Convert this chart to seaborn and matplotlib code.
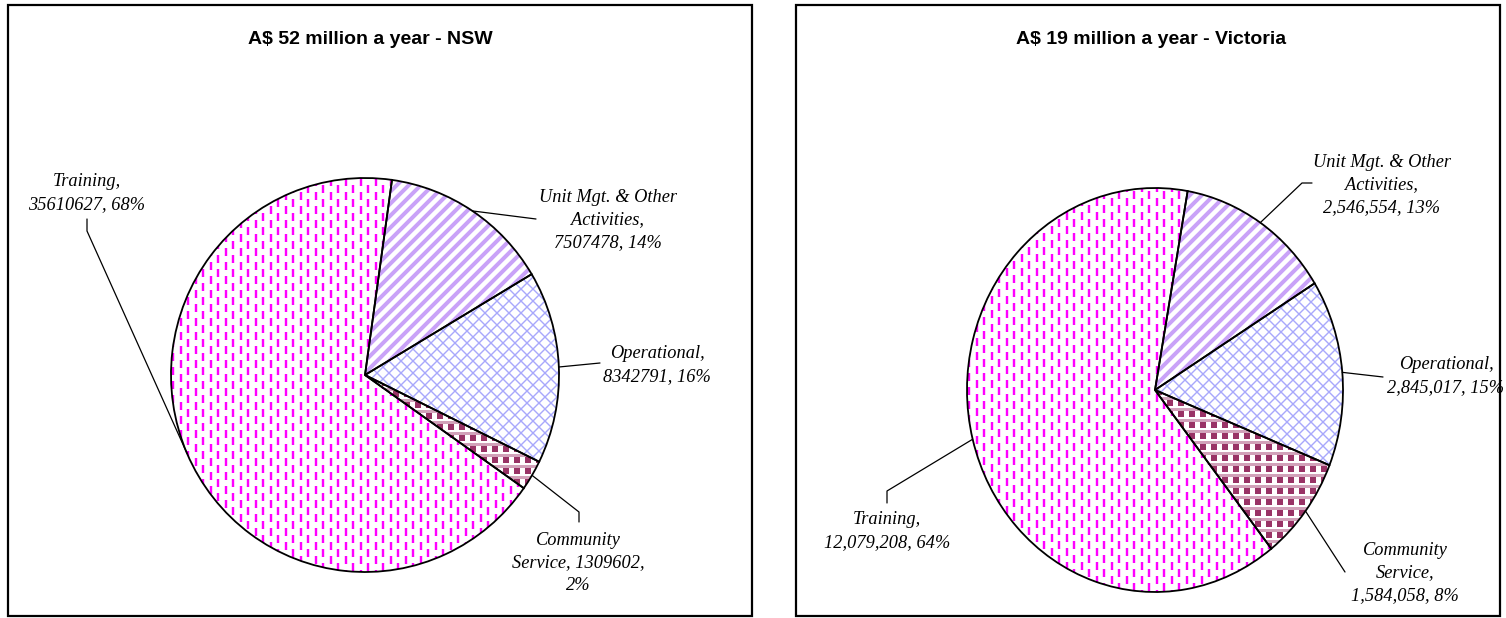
import numpy as np
import matplotlib
matplotlib.use("Agg")
import matplotlib.pyplot as plt
import seaborn as sns
from matplotlib.collections import LineCollection
from matplotlib.patches import Rectangle
from matplotlib.transforms import Affine2D

# ---------------- data ----------------
categories = ["Unit Mgt. & Other Activities", "Operational", "Community Service", "Training"]
nsw_values = [7507478, 8342791, 1309602, 35610627]
vic_values = [2546554, 2845017, 1584058, 12079208]
nsw_labels = ["Unit Mgt. & Other\nActivities,\n7507478, 14%",
              "Operational,\n8342791, 16%",
              "Community\nService, 1309602,\n2%",
              "Training,\n35610627, 68%"]
vic_labels = ["Unit Mgt. & Other\nActivities,\n2,546,554, 13%",
              "Operational,\n2,845,017, 15%",
              "Community\nService,\n1,584,058, 8%",
              "Training,\n12,079,208, 64%"]
titles = ["A$ 52 million a year - NSW", "A$ 19 million a year - Victoria"]

# ---------------- style ----------------
sns.set_theme(style="white")
plt.rcParams["lines.scale_dashes"] = False
textures = ["stripes", "cross", "check", "dashes"]

W, H = 1506, 618
fig = plt.figure(figsize=(W / 100, H / 100), dpi=100)
ax = fig.add_axes([0, 0, 1, 1])
PT = 0.72  # points per pixel


def Y(y):
    return H - y


panels = [
    dict(values=nsw_values, labels=nsw_labels, title=titles[0],
         box=(8, 5, 752, 616), center=(365, 375), radii=(194, 197), offset=8,
         title_xy=(370, 40),
         label_xy=[(608, 220), (657, 365), (578, 563), (87, 193)],
         leader=[[(536, 219)], [(600, 363)], [(579, 512), (579, 522)], [(87, 231), (87, 219)]]),
    dict(values=vic_values, labels=vic_labels, title=titles[1],
         box=(796, 5, 1500, 616), center=(1155, 390), radii=(188, 202), offset=10,
         title_xy=(1151, 40),
         label_xy=[(1382, 185), (1446, 376), (1405, 573), (887, 531)],
         leader=[[(1302, 183), (1312, 183)], [(1383, 377)], [(1345, 572)], [(887, 491), (887, 503)]]),
]


def add_lines(segs, clip, **kw):
    lc = LineCollection(segs, zorder=2, **kw)
    ax.add_collection(lc)
    lc.set_clip_path(clip)


def texture(kind, wedge, cx, cy, rx, ry):
    x0, x1 = cx - rx - 20, cx + rx + 20
    y0, y1 = cy - ry - 20, cy + ry + 20
    span = (x1 - x0) + (y1 - y0)
    if kind == "dashes":
        xs = np.arange(x0, x1, 7.5)
        for k, off in ((0, 0), (1, 7)):
            segs = [[(x, y0), (x, y1)] for x in xs[k::2]]
            add_lines(segs, wedge, colors="#ff00ff", linewidths=2.4 * PT,
                      linestyles=[(off * PT, (8 * PT, 6 * PT))])
    elif kind == "stripes":
        cs = np.arange(-span, span, 12)
        segs = [[(x0, x0 - cx + cy + c), (x1, x1 - cx + cy + c)] for c in cs]
        add_lines(segs, wedge, colors="#c9a2f8", linewidths=4 * PT)
    elif kind == "cross":
        cs = np.arange(-span, span, 12)
        segs = [[(x0, x0 - cx + cy + c), (x1, x1 - cx + cy + c)] for c in cs]
        segs += [[(x0, -(x0 - cx) + cy + c), (x1, -(x1 - cx) + cy + c)] for c in cs]
        add_lines(segs, wedge, colors="#a8a8fb", linewidths=1.4 * PT)
    elif kind == "check":
        ys = np.arange(y0, y1, 11)
        add_lines([[(x0, y), (x1, y)] for y in ys + 5.5], wedge,
                  colors="#d2a2ba", linewidths=3 * PT)
        add_lines([[(x0, y), (x1, y)] for y in ys], wedge,
                  colors="#993366", linewidths=6 * PT,
                  linestyles=[(0, (6 * PT, 5 * PT))])


for p in panels:
    bx0, by0, bx1, by1 = p["box"]
    ax.add_patch(Rectangle((bx0, Y(by1)), bx1 - bx0, by1 - by0, fill=False,
                           edgecolor="black", linewidth=1.6, zorder=6))
    cx, cyd = p["center"]
    cy = Y(cyd)
    rx, ry = p["radii"]
    tr = Affine2D().scale(rx, ry).translate(cx, cy) + ax.transData

    wedges, _ = ax.pie(p["values"], startangle=90 - p["offset"], counterclock=False,
                       radius=1, center=(0, 0), frame=True,
                       wedgeprops=dict(facecolor="white", edgecolor="none",
                                       linewidth=0, zorder=1))
    for w in wedges:
        w.set_transform(tr)
    outl, _ = ax.pie(p["values"], startangle=90 - p["offset"], counterclock=False,
                     radius=1, center=(0, 0), frame=True,
                     wedgeprops=dict(fill=False, edgecolor="black",
                                     linewidth=1.3, zorder=4))
    for w in outl:
        w.set_transform(tr)

    for w, kind, lab, lxy, path in zip(wedges, textures, p["labels"],
                                       p["label_xy"], p["leader"]):
        texture(kind, w, cx, cy, rx, ry)
        th = np.deg2rad((w.theta1 + w.theta2) / 2)
        pts = [(cx + rx * np.cos(th), cy + ry * np.sin(th))] + [(x, Y(y)) for x, y in path]
        xs, ys = zip(*pts)
        ax.plot(xs, ys, color="black", linewidth=0.9, zorder=5)
        ax.text(lxy[0], Y(lxy[1]), lab, ha="center", va="center",
                multialignment="center", fontfamily="Liberation Serif",
                fontstyle="italic", fontsize=13.2, linespacing=1.42,
                color="black", zorder=6)

    ax.text(p["title_xy"][0], Y(p["title_xy"][1]), p["title"], ha="center",
            va="center", fontfamily="Liberation Sans", fontweight="bold",
            fontsize=14, color="black", zorder=6)

ax.set_xlim(0, W)
ax.set_ylim(0, H)
ax.set_aspect("auto")
ax.axis("off")
fig.savefig("out.png", dpi=100, facecolor="white")
